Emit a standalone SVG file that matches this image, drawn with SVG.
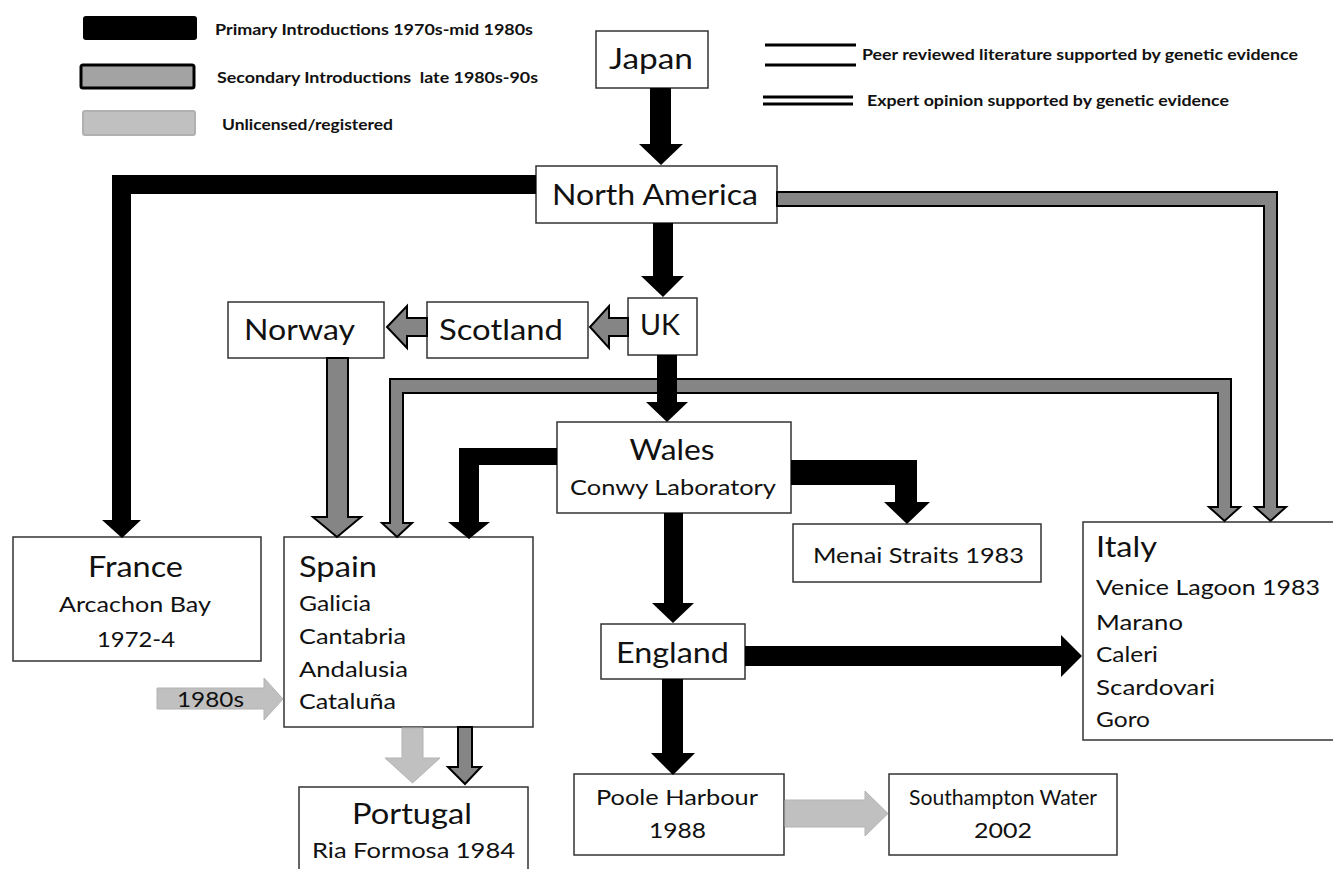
<svg xmlns="http://www.w3.org/2000/svg" width="1333" height="869" viewBox="0 0 1333 869">
<style>
.bg{fill:#fff}
.box{fill:#fff;stroke:#333;stroke-width:1.5}
.t{font-family:Lato,"Liberation Sans",sans-serif;fill:#111}
.big{font-size:28px}
.sub{font-size:22px}
.leg{font-size:16px;font-weight:bold}
.leg2{font-size:15px;font-weight:bold}
.prim{fill:#000}
.sec{fill:#858585;stroke:#000;stroke-width:2;stroke-linejoin:miter}
.unl{fill:#c0c0c0;stroke:#b3b3b3;stroke-width:1}
.ln{stroke:#000;stroke-width:3}
</style>
<rect class="bg" x="0" y="0" width="1333" height="869"/>

<g id="legend">
  <rect x="83" y="16" width="114" height="24" rx="3" fill="#000"/>
  <rect x="81" y="65" width="113" height="23" rx="2" fill="#a3a3a3" stroke="#000" stroke-width="3"/>
  <rect x="83" y="111" width="112" height="24" rx="2" fill="#c0c0c0" stroke="#b0b0b0" stroke-width="2"/>
  <text class="t leg" x="215" y="35" textLength="318" lengthAdjust="spacingAndGlyphs">Primary Introductions 1970s-mid 1980s</text>
  <text class="t leg" x="217" y="83" textLength="321" lengthAdjust="spacingAndGlyphs" xml:space="preserve">Secondary Introductions  late 1980s-90s</text>
  <text class="t leg" x="222" y="130" textLength="171" lengthAdjust="spacingAndGlyphs">Unlicensed/registered</text>
  <line class="ln" x1="765" y1="45" x2="856" y2="45"/>
  <line class="ln" x1="765" y1="65" x2="856" y2="65"/>
  <line class="ln" x1="763" y1="97" x2="853" y2="97"/>
  <line class="ln" x1="763" y1="104" x2="853" y2="104"/>
  <text class="t leg2" x="862" y="60" textLength="436" lengthAdjust="spacingAndGlyphs">Peer reviewed literature supported by genetic evidence</text>
  <text class="t leg2" x="867" y="106" textLength="362" lengthAdjust="spacingAndGlyphs">Expert opinion supported by genetic evidence</text>
</g>

<g id="node-japan">
  <rect class="box" x="596" y="31" width="112" height="57"/>
  <text class="t big" x="651" y="69" text-anchor="middle" textLength="84" lengthAdjust="spacingAndGlyphs">Japan</text>
</g>
<g id="node-north-america">
  <rect class="box" x="536" y="166" width="241" height="57"/>
  <text class="t big" x="655" y="205" text-anchor="middle" textLength="206" lengthAdjust="spacingAndGlyphs">North America</text>
</g>
<g id="node-uk">
  <rect class="box" x="628" y="298" width="69" height="57"/>
  <text class="t big" x="660" y="335" text-anchor="middle" textLength="40" lengthAdjust="spacingAndGlyphs">UK</text>
</g>
<g id="node-scotland">
  <rect class="box" x="427" y="302" width="161" height="56"/>
  <text class="t big" x="501" y="340" text-anchor="middle" textLength="124" lengthAdjust="spacingAndGlyphs">Scotland</text>
</g>
<g id="node-norway">
  <rect class="box" x="228" y="302" width="156" height="56"/>
  <text class="t big" x="299.5" y="340" text-anchor="middle" textLength="111" lengthAdjust="spacingAndGlyphs">Norway</text>
</g>
<g id="node-wales">
  <rect class="box" x="557" y="422" width="234" height="91"/>
  <text class="t big" x="672" y="460" text-anchor="middle" textLength="85" lengthAdjust="spacingAndGlyphs">Wales</text>
  <text class="t sub" x="673" y="495" text-anchor="middle" textLength="206" lengthAdjust="spacingAndGlyphs">Conwy Laboratory</text>
</g>
<g id="node-menai">
  <rect class="box" x="793" y="524" width="248" height="58"/>
  <text class="t sub" x="918.5" y="563" text-anchor="middle" textLength="211" lengthAdjust="spacingAndGlyphs">Menai Straits 1983</text>
</g>
<g id="node-france">
  <rect class="box" x="13" y="537" width="248" height="124"/>
  <text class="t big" x="135.5" y="577" text-anchor="middle" textLength="95" lengthAdjust="spacingAndGlyphs">France</text>
  <text class="t sub" x="135" y="612" text-anchor="middle" textLength="152" lengthAdjust="spacingAndGlyphs">Arcachon Bay</text>
  <text class="t sub" x="136" y="647" text-anchor="middle" textLength="78" lengthAdjust="spacingAndGlyphs">1972-4</text>
</g>
<g id="node-spain">
  <rect class="box" x="284" y="537" width="249" height="190"/>
  <text class="t big" x="299" y="577" textLength="78" lengthAdjust="spacingAndGlyphs">Spain</text>
  <text class="t sub" x="299" y="611" textLength="72" lengthAdjust="spacingAndGlyphs">Galicia</text>
  <text class="t sub" x="299" y="644" textLength="107" lengthAdjust="spacingAndGlyphs">Cantabria</text>
  <text class="t sub" x="299" y="677" textLength="109" lengthAdjust="spacingAndGlyphs">Andalusia</text>
  <text class="t sub" x="299" y="709" textLength="97" lengthAdjust="spacingAndGlyphs">Cataluña</text>
</g>
<g id="node-portugal">
  <rect class="box" x="299" y="787" width="229" height="100"/>
  <text class="t big" x="412" y="824" text-anchor="middle" textLength="120" lengthAdjust="spacingAndGlyphs">Portugal</text>
  <text class="t sub" x="413.5" y="858" text-anchor="middle" textLength="203" lengthAdjust="spacingAndGlyphs">Ria Formosa 1984</text>
</g>
<g id="node-england">
  <rect class="box" x="601" y="624" width="144" height="55"/>
  <text class="t big" x="672.5" y="663" text-anchor="middle" textLength="113" lengthAdjust="spacingAndGlyphs">England</text>
</g>
<g id="node-poole">
  <rect class="box" x="574" y="774" width="210" height="81"/>
  <text class="t sub" x="677" y="805" text-anchor="middle" textLength="162" lengthAdjust="spacingAndGlyphs">Poole Harbour</text>
  <text class="t sub" x="677.5" y="838" text-anchor="middle" textLength="57" lengthAdjust="spacingAndGlyphs">1988</text>
</g>
<g id="node-southampton">
  <rect class="box" x="889" y="774" width="228" height="81"/>
  <text class="t sub" x="1003" y="805" text-anchor="middle" textLength="188" lengthAdjust="spacingAndGlyphs">Southampton Water</text>
  <text class="t sub" x="1003" y="838" text-anchor="middle" textLength="58" lengthAdjust="spacingAndGlyphs">2002</text>
</g>
<g id="node-italy">
  <rect class="box" x="1083" y="522" width="260" height="218"/>
  <text class="t big" x="1096" y="557" textLength="61" lengthAdjust="spacingAndGlyphs">Italy</text>
  <text class="t sub" x="1096" y="595" textLength="224" lengthAdjust="spacingAndGlyphs">Venice Lagoon 1983</text>
  <text class="t sub" x="1096" y="630" textLength="87" lengthAdjust="spacingAndGlyphs">Marano</text>
  <text class="t sub" x="1096" y="662" textLength="62" lengthAdjust="spacingAndGlyphs">Caleri</text>
  <text class="t sub" x="1096" y="695" textLength="119" lengthAdjust="spacingAndGlyphs">Scardovari</text>
  <text class="t sub" x="1096" y="727" textLength="54" lengthAdjust="spacingAndGlyphs">Goro</text>
</g>

<g id="connectors">
  <!-- secondary (grey, black outline) -->
  <polygon id="c-na-italy" class="sec" points="777,192 1277,192 1277,507 1286,507 1270.5,521 1255,507 1264,507 1264,206 777,206"/>
  <polygon id="c-uk-italy-spain" class="sec" points="397,537 412,523 403,523 403,393 1218,393 1218,507 1209,507 1224.5,521 1240,507 1231,507 1231,379 390,379 390,523 382,523"/>
  <polygon id="c-uk-scotland" class="sec" points="628,318 609,318 609,306 590,327 609,348 609,336 628,336"/>
  <polygon id="c-scotland-norway" class="sec" points="427,318 407,318 407,306 387,327 407,348 407,336 427,336"/>
  <polygon id="c-norway-spain" class="sec" points="327,358 327,517 313,517 337,537 361,517 348,517 348,358"/>
  <polygon id="c-spain-portugal-sec" class="sec" points="458,727 458,767 448,767 465,784 481,767 472,767 472,727"/>
  <!-- primary (black) -->
  <polygon id="c-japan-na" class="prim" points="650,88 650,144 639,144 661,165 683,144 671,144 671,88"/>
  <polygon id="c-na-france" class="prim" points="536,175 112,175 112,520 102,520 122,538 141,520 131,520 131,194 536,194"/>
  <polygon id="c-na-uk" class="prim" points="653,223 653,276 641,276 663,297 684,276 673,276 673,223"/>
  <polygon id="c-uk-wales" class="prim" points="657,355 657,402 646,402 667,422 688,402 677,402 677,355"/>
  <polygon id="c-wales-spain" class="prim" points="557,448 459,448 459,522 448,522 469,539 490,522 479,522 479,465 557,465"/>
  <polygon id="c-wales-menai" class="prim" points="791,460 917,460 917,502 930,502 907,524 884,502 895,502 895,485 791,485"/>
  <polygon id="c-wales-england" class="prim" points="664,513 664,603 652,603 673,623 694,603 683,603 683,513"/>
  <polygon id="c-england-italy" class="prim" points="745,646 1061,646 1061,635 1082,656 1061,677 1061,666 745,666"/>
  <polygon id="c-england-poole" class="prim" points="662,679 662,753 651,753 673,775 695,753 683,753 683,679"/>
  <!-- unlicensed (light grey) -->
  <polygon id="c-poole-southampton" class="unl" points="785,800 865,800 865,791 888,813.5 865,836 865,827 785,827"/>
  <polygon id="c-1980s-spain" class="unl" points="157,688 264,688 264,678 283,699 264,720 264,709 157,709"/>
  <text class="t" x="210.5" y="707" text-anchor="middle" font-size="21" fill="#333" textLength="67" lengthAdjust="spacingAndGlyphs">1980s</text>
  <polygon id="c-spain-portugal-unl" class="unl" points="402,728 402,758 385,758 412.5,783 440,758 423,758 423,728"/>
</g>
</svg>
